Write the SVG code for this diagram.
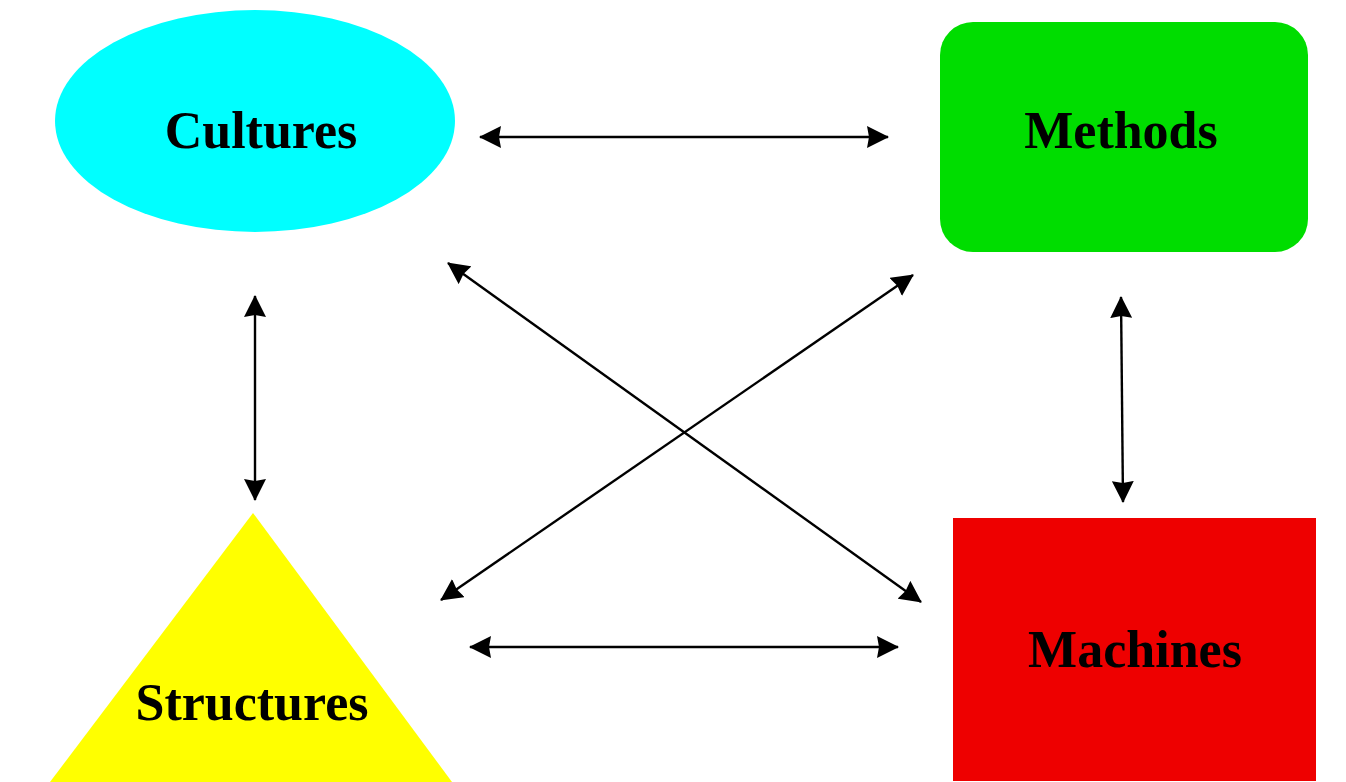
<svg xmlns="http://www.w3.org/2000/svg" width="1346" height="782" viewBox="0 0 1346 782">
  <style>
    .label { font-family: "Liberation Serif", "Times New Roman", serif; font-weight: bold; font-size: 52px; fill: #000; text-anchor: middle; }
    .link { stroke: #000; stroke-width: 2.4; fill: none; marker-start: url(#head); marker-end: url(#head); }
  </style>
  <defs>
    <marker id="head" markerUnits="userSpaceOnUse" markerWidth="22" markerHeight="22" viewBox="0 0 22 22" refX="21" refY="11" orient="auto-start-reverse">
      <path d="M0,0 L22,11 L0,22 L2,11 z" fill="#000"/>
    </marker>
  </defs>
  <rect width="1346" height="782" fill="#fff"/>

  <g id="cultures">
    <ellipse cx="255" cy="121" rx="200" ry="111" fill="#00ffff"/>
    <text class="label" x="261" y="148">Cultures</text>
  </g>

  <g id="methods">
    <rect x="940" y="22" width="368" height="230" rx="33" ry="33" fill="#00dd00"/>
    <text class="label" x="1121" y="148">Methods</text>
  </g>

  <g id="structures">
    <polygon points="253,513 50,782 452,782" fill="#ffff00"/>
    <text class="label" x="252" y="720">Structures</text>
  </g>

  <g id="machines">
    <rect x="953" y="518" width="363" height="263" fill="#ee0000"/>
    <text class="label" x="1135" y="667">Machines</text>
  </g>

  <g id="connectors">
    <line class="link" x1="480" y1="137" x2="888" y2="137"/>
    <line class="link" x1="470" y1="647" x2="898" y2="647"/>
    <line class="link" x1="255" y1="296" x2="255" y2="500"/>
    <line class="link" x1="1121" y1="297" x2="1123" y2="502"/>
    <line class="link" x1="448" y1="263" x2="921" y2="602"/>
    <line class="link" x1="913" y1="275" x2="441" y2="600"/>
  </g>
</svg>
